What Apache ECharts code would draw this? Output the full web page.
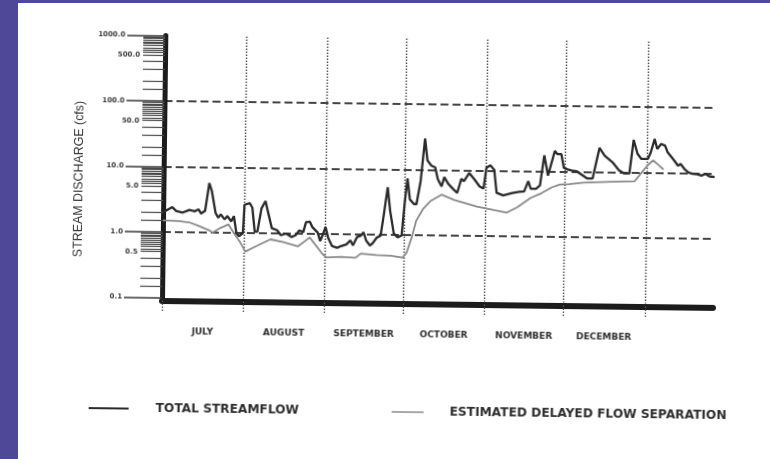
<!DOCTYPE html>
<html>
<head>
<meta charset="utf-8">
<script src="https://cdn.jsdelivr.net/npm/echarts@6/dist/echarts.min.js"></script>
<style>
  html, body { margin: 0; padding: 0; width: 770px; height: 459px; overflow: hidden; background: #4f4898; }
  #sheet { position: absolute; left: 18px; top: 3px; right: 0; bottom: 0; background: #ffffff; }
  #chart { position: absolute; left: 0; top: 0; width: 770px; height: 459px;
           transform: rotate(0.72deg); transform-origin: 163px 300px; }
</style>
</head>
<body>
<div id="sheet"></div>
<div id="chart"></div>
<script>
// Months along the bottom (days counted from July 1)
const monthNames  = ['JULY', 'AUGUST', 'SEPTEMBER', 'OCTOBER', 'NOVEMBER', 'DECEMBER'];
const monthStarts = [0, 31, 62, 92, 123, 153, 184];
const monthMids   = [15.5, 46.5, 77, 107.5, 138, 168.5];

// Discharge scale (cfs, logarithmic)
const decadeTicks  = [0.1, 1, 10, 100, 1000];
const halfTicks    = [0.5, 5, 50, 500];
const gridValues   = [1, 10, 100];
const minorFactors = [9.5, 9, 8.5, 8, 7.5, 7, 6.5, 6, 5.5, 5, 4, 3, 2, 1.5];
const decadeBases  = [0.1, 1, 10, 100];

// Total streamflow
const totalDays = [
  0, 3.5, 5, 7.5, 10, 12, 13.5, 14.5, 16, 17.5,
  18.5, 20, 21, 22, 23.5, 24.5, 26, 27, 28, 29,
  30.5, 31, 33, 34, 35, 36, 37.5, 39, 40, 41.5,
  43.5, 45, 47, 49, 50.5, 52, 53.5, 54.5, 56, 57,
  59, 60, 61, 62, 63, 64.5, 66.5, 68, 70, 71.5,
  72.5, 74, 75.5, 76.5, 77.5, 79, 80, 81.5, 83, 84,
  85.5, 86.5, 88, 89.5, 91, 92, 93, 94, 95.5, 96.5,
  98, 99.5, 100.5, 102, 103.5, 104.5, 106, 107, 108.5, 110.5,
  112, 113.5, 114.5, 116.5, 118.5, 120.5, 122, 123, 124.5, 126,
  127, 129.5, 133, 135.5, 137.5, 139, 140, 142, 143.5, 145,
  146.5, 148, 149, 150, 151.5, 152.5, 154, 155.5, 157.5, 159.5,
  161.5, 163.5, 166, 168, 171, 173.5, 175.5, 177.5, 179, 180.5,
  182, 184.5, 185.5, 187, 188, 189.5, 191, 192, 193.5, 194.5,
  196, 197, 198.5, 200, 201.5, 203.5, 205, 206.5, 208, 210
];
const totalFlow = [
  2.0, 2.4, 2.1, 2.0, 2.2, 2.1, 2.25, 1.95, 2.15, 5.7,
  4.3, 2.0, 1.7, 1.9, 1.6, 1.8, 1.5, 1.8, 1.0, 0.89,
  1.0, 2.7, 2.85, 2.45, 1.06, 1.05, 2.4, 3.1, 2.1, 1.2,
  1.12, 0.94, 1.0, 0.89, 0.94, 1.12, 1.06, 1.5, 1.53, 1.26,
  1.05, 0.78, 0.99, 1.28, 0.88, 0.66, 0.62, 0.66, 0.70, 0.81,
  0.68, 0.91, 0.96, 1.08, 0.81, 0.68, 0.74, 0.9, 0.97, 1.86,
  5.35, 2.36, 1.05, 0.92, 0.98, 3.0, 7.3, 3.5, 3.0, 2.95,
  6.7, 30, 13.9, 11.6, 10.9, 7.3, 5.6, 7.8, 6.2, 5.1,
  4.5, 7.4, 6.8, 9.1, 7.3, 5.7, 5.3, 11, 12, 10.3,
  4.6, 4.2, 4.6, 4.8, 4.9, 7.0, 5.4, 5.4, 6.1, 17.5,
  8.6, 14.5, 20.6, 18.4, 18.4, 11.4, 10.8, 10.4, 10.1, 8.9,
  7.9, 7.9, 23.3, 17.8, 14.2, 10.7, 9.6, 9.6, 31.4, 19.3,
  16.1, 16.2, 20, 32.6, 23, 27.5, 26, 20.5, 17.4, 15.5,
  12.9, 13.7, 11.5, 10.2, 9.8, 9.6, 9.2, 9.8, 9.0, 8.8
];

// Estimated delayed flow separation
const delayedDays = [
  0, 6, 10, 13.5, 17.5, 19, 22, 25, 27, 29.5,
  31.5, 34.5, 41, 46, 51.5, 56, 61, 62.5, 68, 73.5,
  75.5, 81.5, 87, 91.5, 93, 95, 96.5, 99, 102, 106,
  111, 119.5, 126, 131, 135, 140, 144, 148, 151, 154.5,
  160, 166.5, 173, 179.5, 182, 184.5, 186.5, 188.5, 190.5
];
const delayedFlow = [
  1.5, 1.48, 1.42, 1.26, 1.09, 1.0, 1.19, 1.34, 1.0, 0.72,
  0.52, 0.6, 0.81, 0.74, 0.64, 0.88, 0.49, 0.44, 0.45, 0.44,
  0.51, 0.49, 0.48, 0.45, 0.54, 0.97, 1.66, 2.5, 3.37, 4.2,
  3.5, 2.8, 2.5, 2.3, 2.8, 3.9, 4.6, 5.7, 6.3, 6.4,
  6.8, 7.0, 7.2, 7.3, 9.8, 13.0, 15.4, 13.2, 11.2
];

const seriesNames = ['TOTAL STREAMFLOW', 'ESTIMATED DELAYED FLOW SEPARATION'];
const axisTitle = 'STREAM DISCHARGE (cfs)';

const minorTicks = [];
decadeBases.forEach(b => minorFactors.forEach(f => minorTicks.push(+(b * f).toPrecision(6))));

const zip = (xs, ys) => xs.map((x, i) => [x, ys[i]]);
const ink = '#2b2b2b';
const tickFont = { fontFamily: 'DejaVu Sans', fontWeight: 'bold', fontSize: 7, color: '#3c3c3c' };

const logAxisBase = {
  type: 'log', logBase: 10, min: 0.1, max: 1000, position: 'left', gridIndex: 0,
  splitLine: { show: false }, minorTick: { show: false }, minorSplitLine: { show: false }
};

const chart = echarts.init(document.getElementById('chart'), null, { renderer: 'canvas' });
chart.setOption({
  animation: false,
  backgroundColor: 'transparent',
  grid: { left: 162, top: 35.5, width: 551, height: 262, containLabel: false },
  xAxis: {
    type: 'value', min: 0, max: 210, offset: 3,
    axisLine: { show: true, onZero: false, lineStyle: { color: '#1c1c1c', width: 6 } },
    axisTick: { show: true, customValues: monthStarts, length: 11, inside: false,
                lineStyle: { color: '#555', width: 1.3, type: [1.5, 1.5] } },
    axisLabel: {
      customValues: monthMids, margin: 27,
      fontFamily: 'DejaVu Sans', fontWeight: 'bold', fontSize: 9, color: '#2e2e2e',
      formatter: v => {
        let best = 0;
        monthMids.forEach((m, i) => { if (Math.abs(m - v) < Math.abs(monthMids[best] - v)) best = i; });
        return monthNames[best];
      }
    },
    splitLine: { show: true, lineStyle: { color: '#4a4a4a', width: 1.4, type: [1.5, 1.5] } }
  },
  yAxis: [
    Object.assign({}, logAxisBase, {
      axisLine: { show: true, lineStyle: { color: '#1c1c1c', width: 5 } },
      axisTick: { show: true, customValues: decadeTicks, length: 38, lineStyle: { color: '#3a3a3a', width: 1.5 } },
      axisLabel: Object.assign({ customValues: decadeTicks, margin: 40, formatter: v => Number(v).toFixed(1) }, tickFont)
    }),
    Object.assign({}, logAxisBase, {
      axisLine: { show: false },
      axisTick: { show: true, customValues: minorTicks, length: 22, lineStyle: { color: '#4a4a4a', width: 1.2 } },
      axisLabel: Object.assign({ customValues: halfTicks, margin: 25, formatter: v => Number(v).toFixed(1) }, tickFont)
    }),
    Object.assign({}, logAxisBase, {
      axisLine: { show: false },
      axisTick: { show: false, customValues: gridValues },
      axisLabel: { show: false },
      splitLine: { show: true, lineStyle: { color: '#444', width: 1.9, type: [8, 4] } }
    })
  ],
  legend: [
    {
      data: [seriesNames[0]], left: 85, top: 398, itemWidth: 40, itemHeight: 14,
      selectedMode: false, icon: 'path://M0,6 L40,6 L40,8 L0,8 Z',
      itemStyle: { color: ink },
      textStyle: { fontFamily: 'DejaVu Sans', fontWeight: 'bold', fontSize: 12.2, color: '#2e2e2e', padding: [0, 0, 0, 22] }
    },
    {
      data: [seriesNames[1]], left: 388, top: 398, itemWidth: 32, itemHeight: 14,
      selectedMode: false, icon: 'path://M0,6 L32,6 L32,7.5 L0,7.5 Z',
      itemStyle: { color: '#8a8a8a' },
      textStyle: { fontFamily: 'DejaVu Sans', fontWeight: 'bold', fontSize: 12.2, color: '#2e2e2e', padding: [0, 0, 0, 21] }
    }
  ],
  graphic: [{
    type: 'text', x: 78, y: 180, rotation: Math.PI / 2,
    style: { text: axisTitle, align: 'center', verticalAlign: 'middle',
             font: '12.4px "Liberation Sans", Arial, sans-serif', fill: '#333' }
  }],
  series: [
    {
      name: seriesNames[1], type: 'line', xAxisIndex: 0, yAxisIndex: 0, z: 2,
      symbol: 'none', smooth: false, data: zip(delayedDays, delayedFlow),
      lineStyle: { color: '#8a8a8a', width: 1.8 }, itemStyle: { color: '#8a8a8a' }
    },
    {
      name: seriesNames[0], type: 'line', xAxisIndex: 0, yAxisIndex: 0, z: 3,
      symbol: 'none', smooth: false, data: zip(totalDays, totalFlow),
      lineStyle: { color: ink, width: 2.3 }, itemStyle: { color: ink }
    }
  ]
});
</script>
</body>
</html>
